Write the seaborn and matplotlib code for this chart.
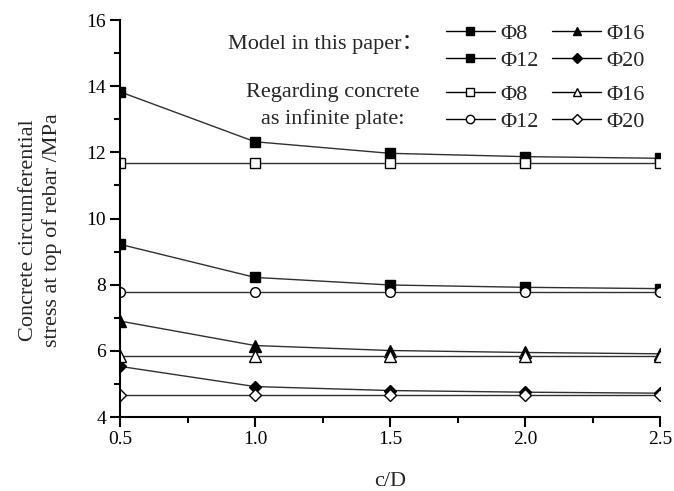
import matplotlib
matplotlib.use("Agg")
import matplotlib.pyplot as plt
from matplotlib.lines import Line2D
from matplotlib.ticker import MultipleLocator
import seaborn as sns
import pandas as pd

# ---- data ----
c_over_D = [0.5, 1.0, 1.5, 2.0, 2.5]
model_phi8 = [13.83, 12.32, 11.97, 11.87, 11.82]
model_phi12 = [9.22, 8.22, 7.99, 7.92, 7.88]
model_phi16 = [6.90, 6.16, 6.01, 5.95, 5.91]
model_phi20 = [5.53, 4.92, 4.80, 4.75, 4.72]
plate_phi8 = [11.67, 11.67, 11.67, 11.67, 11.67]
plate_phi12 = [7.77, 7.77, 7.77, 7.77, 7.77]
plate_phi16 = [5.85, 5.85, 5.85, 5.85, 5.85]
plate_phi20 = [4.67, 4.67, 4.67, 4.67, 4.67]
labels = ["Φ8", "Φ12", "Φ16", "Φ20"]
x_ticks = [0.5, 1.0, 1.5, 2.0, 2.5]
y_ticks = [4, 6, 8, 10, 12, 14, 16]

sns.set_style("ticks")
plt.rcParams["font.family"] = ["Liberation Serif", "Noto Sans CJK SC", "DejaVu Sans"]

fig = plt.figure(figsize=(6.74, 4.91), dpi=100)
ax = fig.add_axes([120 / 674, 1 - 417 / 491, 540 / 674, 397 / 491])

model_series = [model_phi8, model_phi12, model_phi16, model_phi20]
plate_series = [plate_phi8, plate_phi12, plate_phi16, plate_phi20]
model_markers = ["s", "s", "^", "D"]
plate_markers = ["s", "o", "^", "D"]
marker_size = {"s": 7, "o": 7, "^": 8, "D": 6}

line_col = "#303030"
for vals, mk in zip(model_series, model_markers):
    df = pd.DataFrame({"x": c_over_D, "y": vals})
    sns.lineplot(data=df, x="x", y="y", ax=ax, color=line_col, linewidth=1.0,
                 marker=mk, markersize=marker_size[mk],
                 markerfacecolor="black", markeredgecolor="black",
                 markeredgewidth=1.0, zorder=3, clip_on=True)
for vals, mk in zip(plate_series, plate_markers):
    df = pd.DataFrame({"x": c_over_D, "y": vals})
    sns.lineplot(data=df, x="x", y="y", ax=ax, color=line_col, linewidth=1.0,
                 marker=mk, markersize=marker_size[mk],
                 markerfacecolor="white", markeredgecolor="black",
                 markeredgewidth=1.0, zorder=4, clip_on=True)

ax.set_xlim(0.5, 2.5)
ax.set_ylim(4, 16)
ax.set_xticks(x_ticks)
ax.set_xticklabels([f"{v:.1f}" for v in x_ticks])
ax.set_yticks(y_ticks)
ax.set_yticklabels([str(v) for v in y_ticks])
ax.xaxis.set_minor_locator(MultipleLocator(0.25))
ax.yaxis.set_minor_locator(MultipleLocator(1))
sns.despine(ax=ax)
for s in ["left", "bottom"]:
    ax.spines[s].set_linewidth(1.5)
    ax.spines[s].set_color("black")
    ax.spines[s].set_zorder(6)
ax.tick_params(which="major", direction="out", length=7, width=1.5,
               labelsize=14, colors="black", pad=3)
ax.tick_params(which="minor", direction="out", length=4, width=1.5, colors="black")

ax.set_xlabel("c/D", fontsize=16, labelpad=17)
ax.set_ylabel("Concrete circumferential\nstress at top of rebar /MPa",
              fontsize=16, linespacing=1.3)
ax.yaxis.set_label_coords(-0.107, 0.47)

# legends
def handles(markers, face):
    return [Line2D([0], [0], color="black", linewidth=1.0, marker=m,
                   markersize=(6 if m != "D" else 5), markerfacecolor=face,
                   markeredgecolor="black") for m in markers]

leg_kw = dict(ncol=2, frameon=False, fontsize=16, handlelength=2.2,
              handletextpad=0.25, columnspacing=0.6, labelspacing=0.3,
              borderpad=0, borderaxespad=0, loc="upper left")
leg1 = fig.legend(handles(model_markers, "black"), labels,
                  bbox_to_anchor=(446 / 674, 1 - 23 / 491), **leg_kw)
leg2 = fig.legend(handles(plate_markers, "white"), labels,
                  bbox_to_anchor=(446 / 674, 1 - 84 / 491), **leg_kw)

fig.text(326 / 674, 1 - 44 / 491, "Model in this paper：", fontsize=16,
         ha="center", va="center")
fig.text(333 / 674, 1 - 106 / 491, "Regarding concrete\nas infinite plate:",
         fontsize=16, ha="center", va="center", multialignment="center",
         linespacing=1.45)

fig.savefig("out.png", dpi=100)
